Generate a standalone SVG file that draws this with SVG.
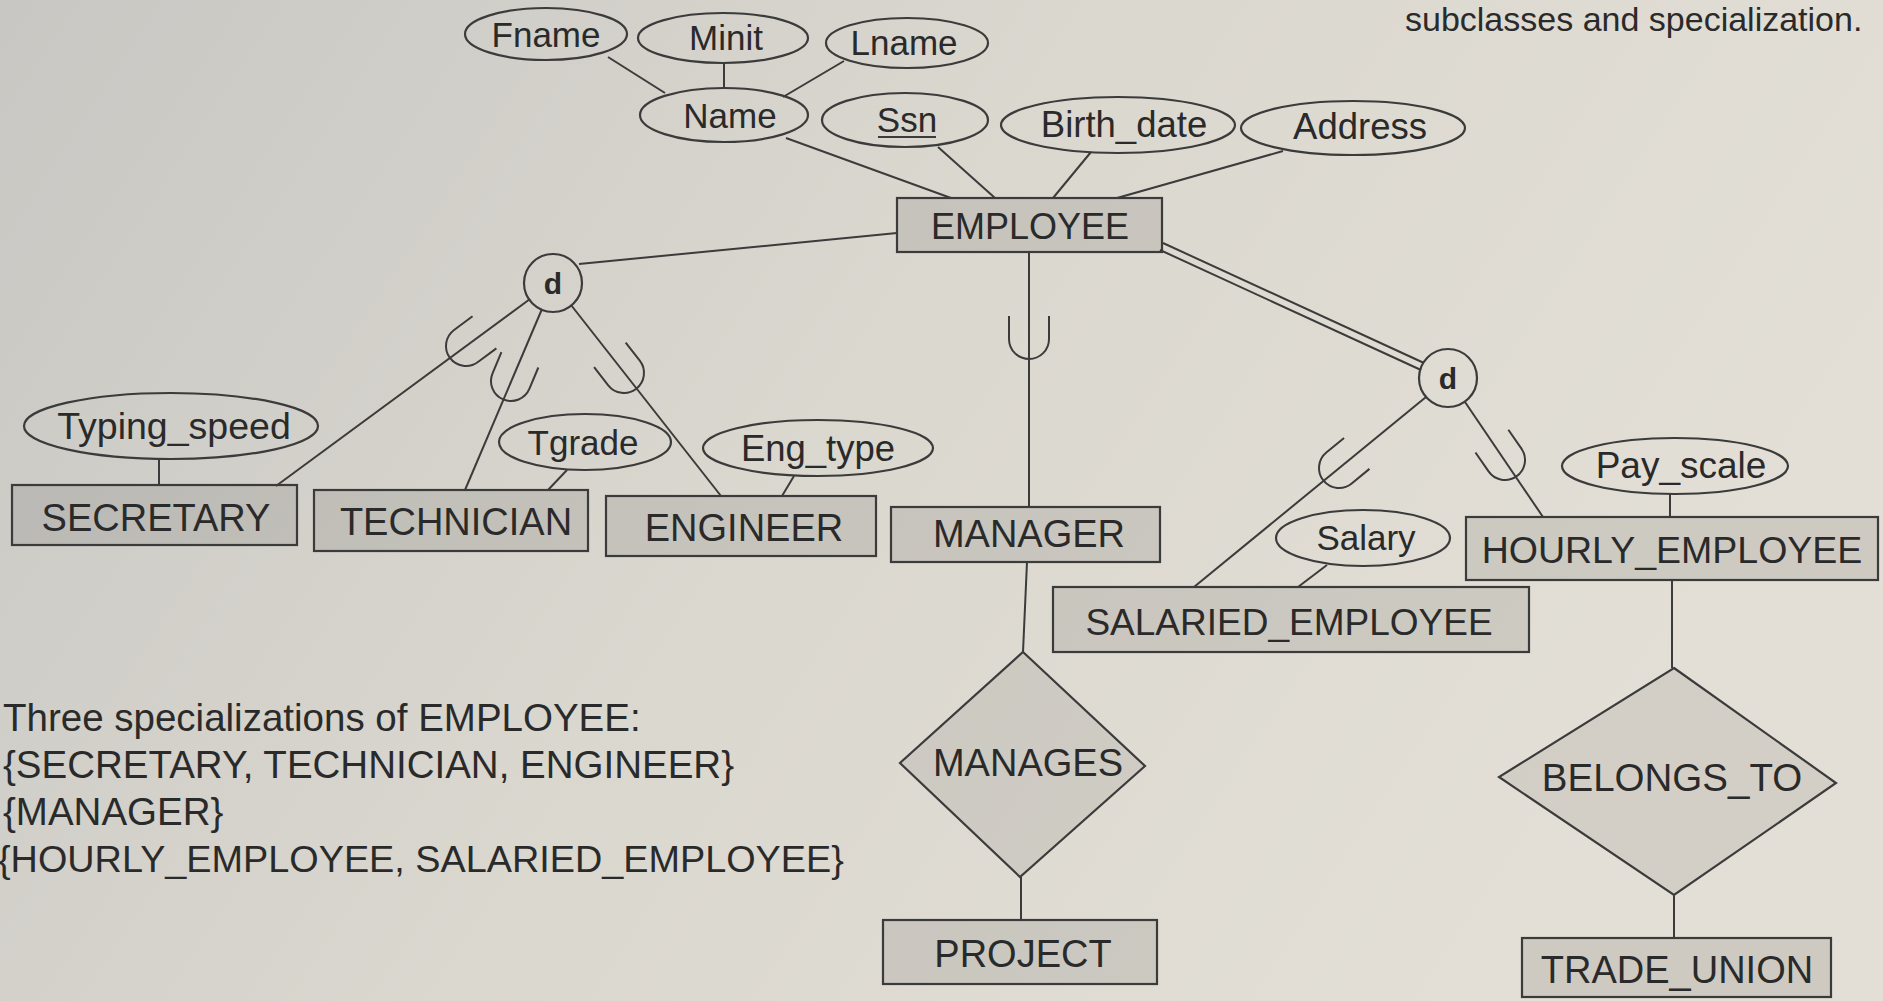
<svg xmlns="http://www.w3.org/2000/svg" width="1883" height="1001" viewBox="0 0 1883 1001">
<defs>
<linearGradient id="bg" x1="0" y1="0" x2="1" y2="0.35">
<stop offset="0" stop-color="#c8c7c3"/>
<stop offset="0.5" stop-color="#dad7cf"/>
<stop offset="1" stop-color="#e3dfd6"/>
</linearGradient>
<path id="u" d="M -20,-23 L -20,0 A 20,20 0 0 0 20,0 L 20,-23"/>
</defs>
<style>
.ln{stroke:#3b3b3b;stroke-width:2;fill:none}
.ent{fill:#000;fill-opacity:0.09;stroke:#3b3b3b;stroke-width:2.2}
.att{fill:none;stroke:#3b3b3b;stroke-width:2.2}
.rel{fill:#000;fill-opacity:0.07;stroke:#3b3b3b;stroke-width:2.2}
.cir{fill:none;stroke:#3b3b3b;stroke-width:2.2}
text{font-family:"Liberation Sans",Arial,sans-serif;fill:#2a2a2a;text-anchor:middle}
.te{font-size:38px}
.ta{font-size:35px}
.td{font-size:30px;font-weight:bold}
.tn{font-size:38.5px;text-anchor:start}
</style>
<rect x="0" y="0" width="1883" height="1001" fill="url(#bg)"/>

<text class="tn" x="1405" y="31" style="font-size:34px">subclasses and specialization.</text>

<g id="connectors">
<line class="ln" x1="608" y1="57" x2="665" y2="93"/>
<line class="ln" x1="724" y1="63" x2="724" y2="88"/>
<line class="ln" x1="844" y1="61" x2="783" y2="97"/>
<line class="ln" x1="786" y1="138" x2="951" y2="198"/>
<line class="ln" x1="938" y1="147" x2="995" y2="198"/>
<line class="ln" x1="1091" y1="152" x2="1053" y2="198"/>
<line class="ln" x1="1283" y1="151" x2="1117" y2="198"/>
<line class="ln" x1="579" y1="264" x2="897" y2="233"/>
<line class="ln" x1="1029" y1="252" x2="1029" y2="507"/>
<line class="ln" x1="1027" y1="562" x2="1023" y2="652"/>
<line class="ln" x1="1021" y1="877" x2="1021" y2="920"/>
<line class="ln" x1="1672" y1="580" x2="1672" y2="668"/>
<line class="ln" x1="1674" y1="895" x2="1674" y2="938"/>
<line class="ln" x1="159" y1="459" x2="159" y2="485"/>
<line class="ln" x1="567" y1="470" x2="548" y2="490"/>
<line class="ln" x1="794" y1="476" x2="782" y2="496"/>
<line class="ln" x1="1327" y1="565" x2="1298" y2="587"/>
<line class="ln" x1="1670" y1="494" x2="1670" y2="517"/>
<line class="ln" x1="1163" y1="243" x2="1424" y2="363"/>
<line class="ln" x1="1160" y1="250" x2="1421" y2="370"/>
<line class="ln" x1="530" y1="299" x2="276" y2="486"/>
<line class="ln" x1="542" y1="309" x2="465" y2="490"/>
<line class="ln" x1="571" y1="305" x2="721" y2="496"/>
<line class="ln" x1="1426" y1="397" x2="1194" y2="587"/>
<line class="ln" x1="1465" y1="402" x2="1543" y2="517"/>
<use href="#u" class="ln" transform="translate(1029,339) rotate(0)"/>
<use href="#u" class="ln" transform="translate(466,346) rotate(53.4)"/>
<use href="#u" class="ln" transform="translate(511,381) rotate(22.7)"/>
<use href="#u" class="ln" transform="translate(624,373) rotate(-37.9)"/>
<use href="#u" class="ln" transform="translate(1339,468) rotate(50.6)"/>
<use href="#u" class="ln" transform="translate(1505,460) rotate(-34.7)"/>
</g>

<g id="fname"><ellipse class="att" cx="546" cy="34" rx="81" ry="26"/><text class="ta" x="546" y="47">Fname</text></g>
<g id="minit"><ellipse class="att" cx="723" cy="38" rx="85" ry="25"/><text class="ta" x="726" y="50">Minit</text></g>
<g id="lname"><ellipse class="att" cx="907" cy="43" rx="81" ry="25"/><text class="ta" x="904" y="55">Lname</text></g>
<g id="name"><ellipse class="att" cx="724" cy="115" rx="84" ry="27"/><text class="ta" x="730" y="128">Name</text></g>
<g id="ssn"><ellipse class="att" cx="905" cy="120" rx="83" ry="27"/><text class="ta" x="907" y="132">Ssn</text><line class="ln" x1="878" y1="137" x2="936" y2="137"/></g>
<g id="birth_date"><ellipse class="att" cx="1118" cy="125" rx="117" ry="28"/><text class="ta" x="1124" y="137" style="font-size:36.5px">Birth_date</text></g>
<g id="address"><ellipse class="att" cx="1353" cy="128" rx="112" ry="27"/><text class="ta" x="1360" y="139" style="font-size:36.5px">Address</text></g>

<g id="employee"><rect class="ent" x="897" y="198" width="265" height="54"/><text class="te" x="1030" y="239" style="font-size:36px">EMPLOYEE</text></g>

<g id="d1"><circle class="cir" cx="553" cy="283" r="29"/><text class="td" x="553" y="294">d</text></g>
<g id="d2"><circle class="cir" cx="1448" cy="378" r="29"/><text class="td" x="1448" y="389">d</text></g>

<g id="typing_speed"><ellipse class="att" cx="171" cy="426" rx="147" ry="33"/><text class="ta" x="174" y="439" style="font-size:37.5px">Typing_speed</text></g>
<g id="tgrade"><ellipse class="att" cx="585" cy="442" rx="86" ry="28"/><text class="ta" x="583" y="455">Tgrade</text></g>
<g id="eng_type"><ellipse class="att" cx="818" cy="448" rx="115" ry="28"/><text class="ta" x="818" y="461" style="font-size:36.5px">Eng_type</text></g>
<g id="salary"><ellipse class="att" cx="1363" cy="538" rx="87" ry="28"/><text class="ta" x="1366" y="550">Salary</text></g>
<g id="pay_scale"><ellipse class="att" cx="1675" cy="466" rx="113" ry="28"/><text class="ta" x="1681" y="478" style="font-size:37px">Pay_scale</text></g>

<g id="secretary"><rect class="ent" x="12" y="485" width="285" height="60"/><text class="te" x="156" y="531">SECRETARY</text></g>
<g id="technician"><rect class="ent" x="314" y="490" width="274" height="61"/><text class="te" x="456" y="535">TECHNICIAN</text></g>
<g id="engineer"><rect class="ent" x="606" y="496" width="270" height="60"/><text class="te" x="744" y="541">ENGINEER</text></g>
<g id="manager"><rect class="ent" x="891" y="507" width="269" height="55"/><text class="te" x="1029" y="547">MANAGER</text></g>
<g id="salaried_employee"><rect class="ent" x="1053" y="587" width="476" height="65"/><text class="te" x="1289" y="635" style="font-size:37px">SALARIED_EMPLOYEE</text></g>
<g id="hourly_employee"><rect class="ent" x="1466" y="517" width="412" height="63"/><text class="te" x="1672" y="563" style="font-size:37.5px">HOURLY_EMPLOYEE</text></g>

<g id="manages"><polygon class="rel" points="1023,652 1145,766 1020,877 900,763"/><text class="te" x="1028" y="776">MANAGES</text></g>
<g id="belongs_to"><polygon class="rel" points="1674,668 1836,783 1674,895 1499,777"/><text class="te" x="1672" y="791" style="font-size:38.5px">BELONGS_TO</text></g>

<g id="project"><rect class="ent" x="883" y="920" width="274" height="64"/><text class="te" x="1023" y="967">PROJECT</text></g>
<g id="trade_union"><rect class="ent" x="1522" y="938" width="309" height="59"/><text class="te" x="1677" y="983">TRADE_UNION</text></g>

<g id="note">
<text class="tn" x="3" y="731">Three specializations of EMPLOYEE:</text>
<text class="tn" x="3" y="778">{SECRETARY, TECHNICIAN, ENGINEER}</text>
<text class="tn" x="3" y="825">{MANAGER}</text>
<text class="tn" x="-2" y="872" style="font-size:37.8px">{HOURLY_EMPLOYEE, SALARIED_EMPLOYEE}</text>
</g>
</svg>
